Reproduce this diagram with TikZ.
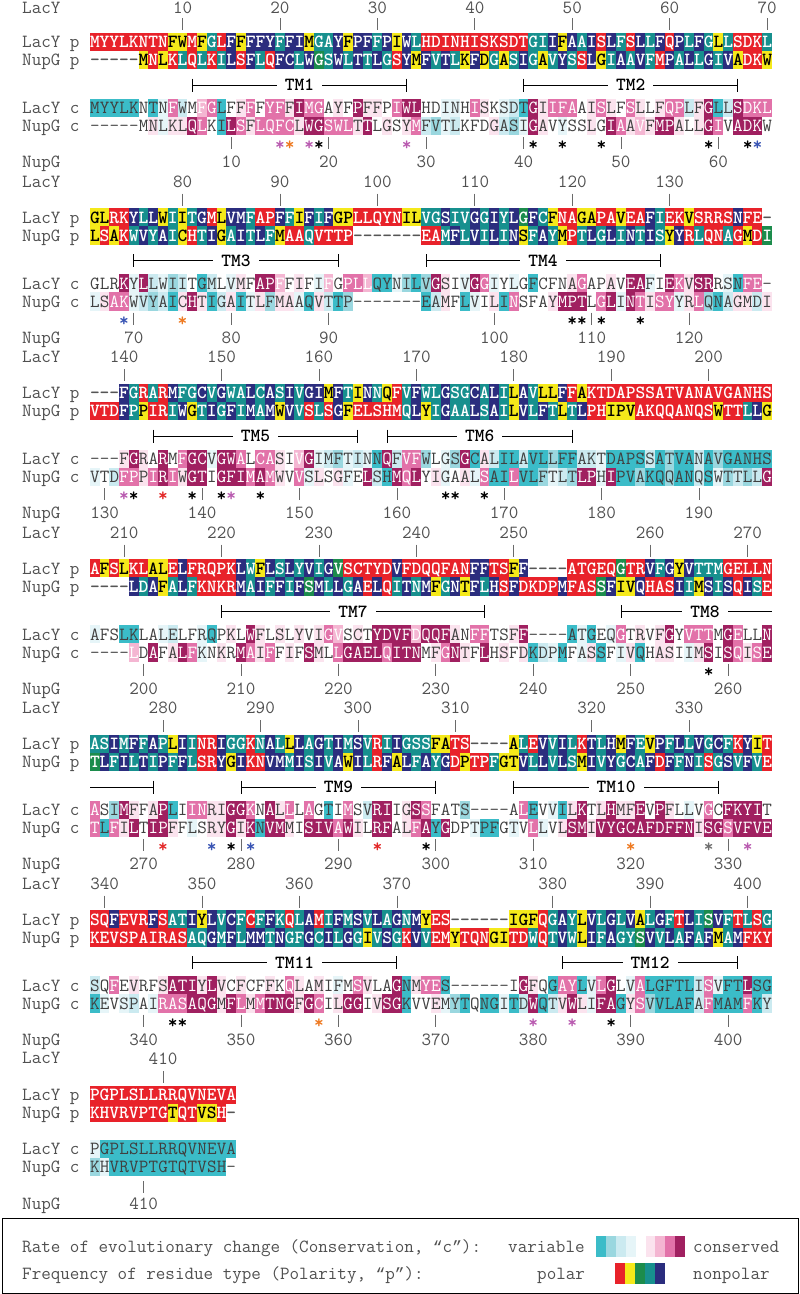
\documentclass[tikz,border=0pt]{standalone}
\usepackage{fontspec}
\newfontfamily\qfont{Liberation Mono}
\definecolor{bgR}{HTML}{E8222A}
\definecolor{bgY}{HTML}{F5E91A}
\definecolor{bgG}{HTML}{1C8C4C}
\definecolor{bgT}{HTML}{17908E}
\definecolor{bgN}{HTML}{2B2D7E}
\definecolor{bg0}{HTML}{FFFFFF}
\definecolor{bg1}{HTML}{3BBCC8}
\definecolor{bg2}{HTML}{9AD7DF}
\definecolor{bg3}{HTML}{CBEAF0}
\definecolor{bg4}{HTML}{E6F5F8}
\definecolor{bg5}{HTML}{FFFFFF}
\definecolor{bg6}{HTML}{FBE3EE}
\definecolor{bg7}{HTML}{F4B6D2}
\definecolor{bg8}{HTML}{E272A9}
\definecolor{bg9}{HTML}{A02060}
\colorlet{fgR}{white}
\colorlet{fgY}{black}
\colorlet{fgG}{white}
\colorlet{fgT}{white}
\colorlet{fgN}{white}
\definecolor{fg0}{HTML}{555555}
\definecolor{fgdark}{HTML}{404040}
\colorlet{fg1}{fgdark}
\colorlet{fg2}{fgdark}
\colorlet{fg3}{fgdark}
\colorlet{fg4}{fgdark}
\colorlet{fg5}{fgdark}
\colorlet{fg6}{fgdark}
\colorlet{fg7}{white}
\colorlet{fg8}{white}
\colorlet{fg9}{white}
\definecolor{labgray}{HTML}{505050}
\definecolor{starpurple}{HTML}{B95BB0}
\definecolor{starorange}{HTML}{EE7A22}
\definecolor{starblue}{HTML}{3A55B4}
\definecolor{starred}{HTML}{E32828}
\definecolor{stargray}{HTML}{707070}
\newcommand\seqfontp{\ttfamily\fontsize{18.55}{20}\selectfont\bfseries}
\newcommand\seqfontc{\ttfamily\fontsize{18.55}{20}\selectfont}
\newcommand\myLQ{{\qfont\fontsize{16.2}{18}\selectfont “}}
\newcommand\myRQ{{\qfont\fontsize{16.2}{18}\selectfont ”}}
\newcount\SeqCol
\def\SeqY{0}
\def\SeqFont{}
\def\topoff{-30.5}
\newcommand\SeqCell[2]{%
  \pgfmathsetmacro\SeqX{90+\the\SeqCol*9.743}%
  \fill[bg#2] (\SeqX-0.15,\SeqY-9.15) rectangle (\SeqX+9.893,\SeqY+9.15);%
  \node[anchor=base,inner sep=0pt,text=fg#2,font=\SeqFont] at (\SeqX+4.8715,\SeqY+5.5) {#1};}
\def\SeqLoop#1#2\relax#3#4\relax{%
  \SeqCell{#1}{#3}%
  \global\advance\SeqCol by 1\relax
  \ifx\relax#2\relax\expandafter\SeqStop\else\expandafter\SeqNext\fi{#2}{#4}}
\def\SeqStop#1#2{}
\def\SeqNext#1#2{\SeqLoop#1\relax#2\relax}
\newcommand\SeqRow[4]{\def\SeqY{#1}\def\SeqFont{#2}\global\SeqCol=0\relax\SeqLoop#3\relax#400000\relax}
\tikzset{
  rulerline/.style={draw=labgray!85, line width=0.8pt},
  numtext/.style={anchor=base, inner sep=0pt, font=\seqfontc, text=labgray},
  rowlabel/.style={anchor=base west, inner sep=0pt, font=\seqfontc, text=labgray},
  tmline/.style={draw=black, line width=1pt},
  tmlabel/.style={fill=white, inner xsep=8pt, inner ysep=0pt, font=\seqfontp, text=black},
  starmark/.style={anchor=base, inner sep=0pt, font=\seqfontp},
  legtext/.style={anchor=base west, inner sep=0pt, font=\seqfontc, text=labgray}
}
\newcommand\toptick[3]{\pgfmathsetmacro\tx{90+(#2-0.5)*9.743}\draw[rulerline] (\tx,#1-24) -- (\tx,#1-12);\node[numtext] at (\tx,#1+\topoff) {#3};}
\newcommand\bottick[2]{\pgfmathsetmacro\tx{90+(#2-0.5)*9.743}\draw[rulerline] (\tx,#1+95) -- (\tx,#1+107);}
\newcommand\botnum[3]{\pgfmathsetmacro\tx{90+(#2-0.5)*9.743}\node[numtext] at (\tx,#1+125.5) {#3};}
\newcommand\starat[3]{\pgfmathsetmacro\tx{90+(#2-0.5)*9.743}\node[starmark,text=#3] at (\tx,#1+108.5) {*};}
\newcommand\tmbar[5]{% y, x1, x2, label, labelx
  \draw[tmline] (#2,#1-6.5) -- (#2,#1+6.5) (#3,#1-6.5) -- (#3,#1+6.5) (#2,#1) -- (#3,#1);
  \node[tmlabel] (#4) at (#5,#1) {#4};}
\newcommand\rowlabels[1]{%
  \node[rowlabel] at (22,#1+\topoff) {LacY};
  \node[rowlabel] at (22,#1+5.5) {LacY p};
  \node[rowlabel] at (22,#1+23.5) {NupG p};
  \node[rowlabel] at (22,#1+71.5) {LacY c};
  \node[rowlabel] at (22,#1+89.5) {NupG c};
  \node[rowlabel] at (22,#1+125.5) {NupG};}
\begin{document}
\begin{tikzpicture}[x=1pt,y=-1pt]
\useasboundingbox (0,0) rectangle (800,1294);
\fill[white] (0,0) rectangle (800,1294);
% ---------------- Block 1 ----------------
\def\topoff{-28.2}
\rowlabels{42}
\SeqRow{42}{\seqfontp}{MYYLKNTNFW MFGLFFFFYF FIMGAYFPFF PIWLHDINHI SKSDTGIIFA AISLFSLLFQ PLFGLLSDKL}{RRRRRRRRYY RYTRNYNNNT NNYTTNYNNT NYNTRRRRRR RRRRRTTNYN TNRNTRNTNR NTNTYTRRRT}
\SeqRow{60}{\seqfontp}{-----MNLKL QLKILSFLQF CLWGSWLTTL GSYMFVTLKF DGASIGAVYS SLGIAAVFMP ALLGIVADKW}{00000YRYRT RTRTNRNTRN NTNGTNTNTN TRNYNTNTYN YTYTNTYTNT RNYTNTNTRN TNTNTNYRRY}
\SeqRow{108}{\seqfontc}{MYYLKNTNFW MFGLFFFFYF FIMGAYFPFF PIWLHDINHI SKSDTGIIFA AISLFSLLFQ PLFGLLSDKL}{1111151483 5781568588 6988565966 5899554458 6543196888 5686586568 8369139888}
\SeqRow{126}{\seqfontc}{-----MNLKL QLKILSFLQF CLWGSWLTTL GSYMFVTLKF DGASIGAVYS SLGIAAVFMP ALLGIVADKW}{0000056466 9851986888 8699888695 6568324355 5632496545 5659867699 6569859995}
\tmbar{85}{192.3}{406.6}{TM1}{299.5}
\tmbar{85}{523.6}{737.9}{TM2}{630.8}
\foreach \c/\n in {10/10,20/20,30/30,40/40,50/50,60/60,70/70} {\toptick{42}{\c}{\n}}
\foreach \c/\n in {15/10,25/20,35/30,45/40,55/50,65/60} {\bottick{42}{\c}\botnum{42}{\c}{\n}}
\foreach \c/\s in {20/starpurple,21/starorange,23/starpurple,24/black,33/starpurple,46/black,49/black,53/black,64/black,68/black,69/starblue} {\starat{42}{\c}{\s}}
\def\topoff{-30.5}
% ---------------- Block 2 ----------------
\rowlabels{217.5}
\SeqRow{217.5}{\seqfontp}{GLRKYLLWII TGMLVMFAPF FIFIFGPLLQ YNILVGSIVG GIYLGFCFNA GAPAVEAFIE KVSRRSNFE-}{YYRRNTNYTY TNRYNNTRRN TYNTNYYRRR RRYYTTNTTN TNTNGNTYRR YYRRYRRNTR RYRRRRNRR0}
\SeqRow{235.5}{\seqfontp}{LSAKWVYAIC HTIGAITLFM AAQVTTP--- ----EAMFLV ILINSFAYMP TLGLINTISY YRLQNAGMDI}{YRYRTNTNTY RTNYTNTNTY RRTRRRR000 0000RRTNTN TNTNYTNTYR TNTNTNTNTY NRTRRTRYRG}
\SeqRow{283.5}{\seqfontc}{GLRKYLLWII TGMLVMFAPF FIFIFGPLLQ YNILVGSIVG GIYLGFCFNA GAPAVEAFIE KVSRRSNFE-}{5559493423 5135465997 5654758871 1421296549 8454515556 8556599459 8699541880}
\SeqRow{301.5}{\seqfontc}{LSAKWVYAIC HTIGAITLFM AAQVTTP--- ----EAMFLV ILINSFAYMP TLGLINTISY YRLQNAGMDI}{4688432316 9613614626 6416312000 0000136514 5618555699 9589498688 4682136636}
\tmbar{260.5}{133.8}{338.4}{TM3}{236.1}
\tmbar{260.5}{426.1}{660.0}{TM4}{543.0}
\foreach \c/\n in {10/80,20/90,30/100,40/110,50/120,60/130} {\toptick{217.5}{\c}{\n}}
\foreach \c/\n in {5/70,15/80,25/90,42/100,52/110,62/120} {\bottick{217.5}{\c}\botnum{217.5}{\c}{\n}}
\foreach \c/\s in {4/starblue,10/starorange,50/black,51/black,53/black,57/black} {\starat{217.5}{\c}{\s}}
% ---------------- Block 3 ----------------
\rowlabels{393}
\SeqRow{393}{\seqfontp}{---FGRARMF GCVGWALCAS IVGIMFTINN QFVFWLGSGC ALILAVLLFF AKTDAPSSAT VANAVGANHS}{000NTRTRNT TNTNTTNTNT NTNNYNTYNT YRTNTTNTTN TNTYNTYYNR YRRRRRRRRR RRRRRRRRRR}
\SeqRow{411}{\seqfontp}{VTDFPPIRIW GTIGFIMAMW VVSLSGFELS HMQLYIGAAL SAILVLFTLT LPHIPVAKQQ ANQSWTTLLG}{RRRNTYRRTN YTNTNTNTNY NTRTRNYRRR RRTNYTNTTN TNTYNTNTYT NRRYYYRRRR RRRRYRRTNY}
\SeqRow{459}{\seqfontc}{---FGRARMF GCVGWALCAS IVGIMFTINN QFVFWLGSGC ALILAVLLFF AKTDAPSSAT VANAVGANHS}{0006965958 9949985886 5794324341 9388254291 6311311211 3341111312 1131211111}
\SeqRow{477}{\seqfontc}{VTDFPPIRIW GTIGFIMAMW VVSLSGFELS HMQLYIGAAL SAILVLFTLT LPHIPVAKQQ ANQSWTTLLG}{4538868986 9959998986 5846564593 1989564564 8118112432 9949112112 1131423239}
\tmbar{436}{153.3}{357.9}{TM5}{255.6}
\tmbar{436}{387.2}{572.3}{TM6}{479.7}
\foreach \c/\n in {4/140,14/150,24/160,34/170,44/180,54/190,64/200} {\toptick{393}{\c}{\n}}
\foreach \c/\n in {2/130,12/140,22/150,32/160,43/170,53/180,63/190} {\bottick{393}{\c}\botnum{393}{\c}{\n}}
\foreach \c/\s in {4/starpurple,5/black,8/starred,11/black,14/black,15/starpurple,18/black,37/black,38/black,41/black} {\starat{393}{\c}{\s}}
% ---------------- Block 4 ----------------
\rowlabels{568.5}
\SeqRow{568.5}{\seqfontp}{AFSLKLALEL FRQPKLWFLS LYVIGVSCTY DVFDQQFANF FTSFF----A TGEQGTRVFG YVTTMGELLN}{RYRYRRYYRN RRRRRNTYNT NTNTNGRRRR RNRRRRRRRN NRRYN0000R RRRRGRRNTN YNTTTRRRRR}
\SeqRow{586.5}{\seqfontp}{----LDAFAL FKNKRMAIFF IFSMLLGAEL QITNMFGNTF LHSFDKDPMF ASSFIVQHAS IIMSISQISE}{0000NTNYTN TRRRRNTNTN TNGNTNTNRN RTNTNYTNYN TNRNRRRRNR RRGNYYNRRR NTYNTNRNTR}
\SeqRow{634.5}{\seqfontc}{AFSLKLALEL FRQPKLWFLS LYVIGVSCTY DVFDQQFANF FTSFF----A TGEQGTRVFG YVTTMGELLN}{4551155435 5415659656 5656875659 9997999658 8556900001 4154856569 5888598559}
\SeqRow{652.5}{\seqfontc}{----LDAFAL FKNKRMAIFF IFSMLLGAEL QITNMFGNTF LHSFDKDPMF ASSFIVQHAS IIMSISQISE}{0000759569 8456598685 6596589999 8999568965 9565613415 4615461566 5469598689}
\tmbar{611.5}{221.5}{484.6}{TM7}{353.0}
\draw[tmline] (621.0,611.5-6.5) -- (621.0,611.5+6.5) (621.0,611.5) -- (772,611.5);
\node[tmlabel] (TM8) at (705,611.5) {TM8};
\foreach \c/\n in {4/210,14/220,24/230,34/240,44/250,58/260,68/270} {\toptick{568.5}{\c}{\n}}
\foreach \c/\n in {6/200,16/210,26/220,36/230,46/240,56/250,66/260} {\bottick{568.5}{\c}\botnum{568.5}{\c}{\n}}
\starat{568.5}{64}{black}
% ---------------- Block 5 ----------------
\rowlabels{744}
\SeqRow{744}{\seqfontp}{ASIMFFAPLI INRIGGKNAL LLAGTIMSVR IIGSSFATS- ---ALEVVIL KTLHMFEVPF LLVGCFKYIT}{TTNTNTNTYN TRRNTTRTNT YNTNTNTNTR TNTTTYYRR0 000YTRNTNT RNTNYNTYNT NTNTNTRNYR}
\SeqRow{762}{\seqfontp}{TLFILTIPFF LSRYGIKNVM MISIVAWILR FALFAYGDPT PFGTVLLVLS MIVYGCAFDF FNISGSVFVE}{GNTNTNTNTN TRRNYNRRNN TNTNTNYNTR NYNTNTNRYR RTYYNTNTNT YNTNTNTNRN TNTRTNTNTR}
\SeqRow{810}{\seqfontc}{ASIMFFAPLI INRIGGKNAL LLAGTIMSVR IIGSSFATS- ---ALEVVIL KTLHMFEVPF LLVGCFKYIT}{8529656915 8866998596 8585158539 9569855520 0005815416 9569669596 5458599995}
\SeqRow{828}{\seqfontc}{TLFILTIPFF LSRYGIKNVM MISIVAWILR FALFAYGDPT PFGTVLLVLS MIVYGCAFDF FNISGSVFVE}{8186959965 4566969199 6599989659 9568919554 1154584569 9699999999 9969989999}
\draw[tmline] (90,787) -- (153.3,787) (153.3,787-6.5) -- (153.3,787+6.5);
\tmbar{787}{241.0}{435.9}{TM9}{338.5}
\tmbar{787}{513.8}{718.4}{TM10}{616.1}
\foreach \c/\n in {8/280,18/290,28/300,38/310,52/320,62/330} {\toptick{744}{\c}{\n}}
\foreach \c in {6,16,26,36,46,66} {\bottick{744}{\c}}
\foreach \c/\n in {6/270,16/280,26/290,36/300,46/310,56/320,66/330} {\botnum{744}{\c}{\n}}
\foreach \c/\s in {8/starred,13/starblue,15/black,17/starblue,30/starred,35/black,56/starorange,64/stargray,68/starpurple} {\starat{744}{\c}{\s}}
% ---------------- Block 6 ----------------
\rowlabels{919.5}
\SeqRow{919.5}{\seqfontp}{SQFEVRFSAT IYLVCFCFFK QLAMIFMSVL AGNMYES--- ---IGFQGAY LVLGLVALGF TLISVFTLSG}{RRNRRRNRTT NYNTNTRTNT RTNRTNTNTN TNTNYRR000 000YYYRTNT YNTNTNYTNT RNTGNTRTRT}
\SeqRow{937.5}{\seqfontp}{KEVSPAIRAS AQGMFLMMTN GFGCILGGIV SGKVVEMYTQ NGITDWQTVW LIFAGYSVVL AFAFMAMFKY}{RRRRRRRRRR TTNTNTNNTN TTNTNTNTYT NTRNTRRYRR RYYRRTRTNT YNTNTTGNTN TNTNYTNRRR}
\SeqRow{985.5}{\seqfontc}{SQFEVRFSAT IYLVCFCFFK QLAMIFMSVL AGNMYES--- ---IGFQGAY LVLGLVALGF TLISVFTLSG}{3585655699 9696565565 8656545865 5916881000 0005965188 1489548111 1138411911}
\SeqRow{1003.5}{\seqfontc}{KEVSPAIRAS AQGMFLMMTN GFGCILGGIV SGKVVEMYTQ NGITDWQTVW LIFAGYSVVL AFAFMAMFKY}{1454354888 9996986899 9698569956 9915564215 1141391369 6499168211 1138111813}
\tmbar{962.5}{192.3}{396.9}{TM11}{294.6}
\tmbar{962.5}{562.5}{737.9}{TM12}{650.2}
\foreach \c/\n in {2/340,12/350,22/360,32/370,48/380,58/390,68/400} {\toptick{919.5}{\c}{\n}}
\foreach \c in {6,16,26,36,56,66} {\bottick{919.5}{\c}}
\foreach \c/\n in {6/340,16/350,26/360,36/370,46/380,56/390,66/400} {\botnum{919.5}{\c}{\n}}
\foreach \c/\s in {9/black,10/black,24/starorange,46/starpurple,50/starpurple,54/black} {\starat{919.5}{\c}{\s}}
% ---------------- Block 7 ----------------
\node[rowlabel] at (22,1058+5.5) {LacY};
\node[rowlabel] at (22,1095+5.5) {LacY p};
\node[rowlabel] at (22,1113+5.5) {NupG p};
\node[rowlabel] at (22,1149+5.5) {LacY c};
\node[rowlabel] at (22,1167+5.5) {NupG c};
\node[rowlabel] at (22,1204+5.5) {NupG};
\SeqRow{1095}{\seqfontp}{PGPLSLLRRQ VNEVA}{RRRRRRRRRR RRRRR}
\SeqRow{1113}{\seqfontp}{KHVRVPTGTQ TVSH-}{RRRRRRRRYR RYYR0}
\SeqRow{1149}{\seqfontc}{PGPLSLLRRQ VNEVA}{4111111111 11111}
\SeqRow{1167}{\seqfontc}{KHVRVPTGTQ TVSH-}{2411111111 11110}
\toptick{1095}{8}{410}
\pgfmathsetmacro\tx{90+5.5*9.743}
\draw[rulerline] (\tx,1181) -- (\tx,1193);
\node[numtext] at (\tx,1204+5.5) {410};
% ---------------- Legend ----------------
\draw[black, line width=1pt] (2,1218) rectangle (798,1293);
\node[legtext] (leg1) at (22,1246.5+5.5) {Rate of evolutionary change (Conservation, \myLQ c\myRQ):};
\node[legtext] (legvar) at (508,1246.5+5.5) {variable};
\node[legtext] (legcons) at (693,1246.5+5.5) {conserved};
\foreach \k/\col in {0/bg1,1/bg2,2/bg3,3/bg4,4/bg5,5/bg6,6/bg7,7/bg8,8/bg9} {
  \fill[\col] ({596+\k*9.9},1235.5) rectangle ({596+(\k+1)*9.9+0.1},1257);
}
\node[legtext] (leg2) at (22,1274+5.5) {Frequency of residue type (Polarity, \myLQ p\myRQ):};
\node[legtext] (legpol) at (537,1274+5.5) {polar};
\node[legtext] (legnon) at (693,1274+5.5) {nonpolar};
\foreach \k/\col in {0/bgR,1/bgY,2/bgG,3/bgT,4/bgN} {
  \fill[\col] ({615+\k*10},1262.5) rectangle ({615+(\k+1)*10+0.1},1284);
}
\end{tikzpicture}
\end{document}
